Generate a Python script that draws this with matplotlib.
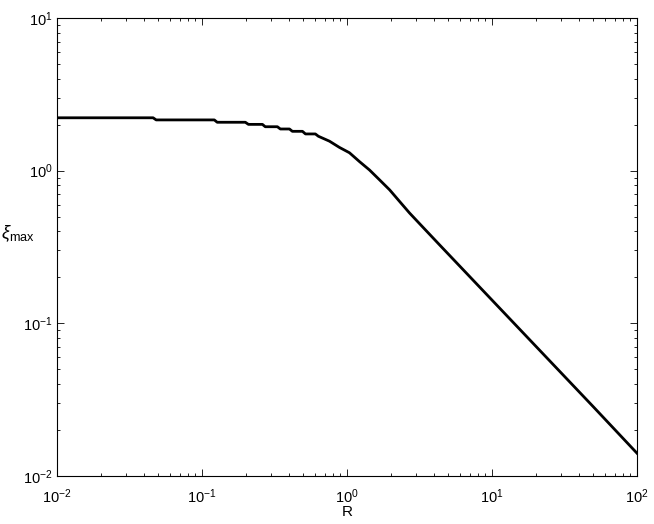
import matplotlib
matplotlib.use('Agg')
import matplotlib.pyplot as plt
import numpy as np
from matplotlib.ticker import LogLocator, NullFormatter

# Data
R = [0.01, 0.046, 0.0483, 0.1216, 0.1273, 0.199, 0.209, 0.261, 0.273, 0.331,
     0.347, 0.401, 0.420, 0.493, 0.517, 0.605, 0.635, 0.757, 0.887, 1.04,
     1.22, 1.43, 1.68, 1.97, 2.31, 2.70, 3.17, 4.35, 10.0, 20.0, 50.0, 100.0]
xi_max = [2.22, 2.22, 2.15, 2.15, 2.075, 2.075, 2.01, 2.01, 1.94, 1.94,
          1.875, 1.875, 1.81, 1.81, 1.74, 1.74, 1.68, 1.56, 1.42, 1.31,
          1.146, 1.01, 0.869, 0.748, 0.627, 0.528, 0.449, 0.3265, 0.142, 0.071, 0.0284, 0.0141]

xlabel = "R"
ylabel = r"$\xi_{\mathrm{max}}$"

plt.rcParams['font.family'] = ['Liberation Sans', 'DejaVu Sans']
plt.rcParams['mathtext.fontset'] = 'custom'
plt.rcParams['mathtext.rm'] = 'Liberation Sans'
plt.rcParams['mathtext.it'] = 'Liberation Sans:italic'
plt.rcParams['mathtext.bf'] = 'Liberation Sans:bold'

W, H = 654, 524
fig = plt.figure(figsize=(W / 100, H / 100), dpi=100)
left, right, top, bottom = 57, 637, 18, 476
ax = fig.add_axes([left / W, (H - bottom) / H, (right - left) / W, (bottom - top) / H])

ax.loglog(R, xi_max, color='black', lw=2.0, solid_joinstyle='round')
ax.set_xlim(1e-2, 1e2)
ax.set_ylim(1e-2, 1e1)

for ax_ in (ax.xaxis, ax.yaxis):
    ax_.set_major_locator(LogLocator(base=10, numticks=20))
    ax_.set_minor_locator(LogLocator(base=10, subs=np.arange(2, 10), numticks=20))
    ax_.set_minor_formatter(NullFormatter())

ax.tick_params(which='both', direction='in', top=True, right=True, labelsize=10.5,
               color='black')
ax.tick_params(which='major', length=5, width=0.6)
ax.tick_params(which='minor', length=2.5, width=0.6)
ax.tick_params(axis='x', which='both', pad=8)
ax.tick_params(axis='y', which='both', pad=3)

for s in ax.spines.values():
    s.set_linewidth(0.8)
    s.set_color('black')

ax.set_xlabel(xlabel, fontsize=11)
ax.xaxis.set_label_coords(0.5, -(511.5 - bottom) / (bottom - top))
ax.xaxis.label.set_va('center')
ax.set_ylabel(ylabel, fontsize=13, rotation=0, ha='center', va='center')
ax.yaxis.set_label_coords((18 - left) / (right - left), (bottom - 234) / (bottom - top))

fig.savefig('out.png', dpi=100, facecolor='white')
